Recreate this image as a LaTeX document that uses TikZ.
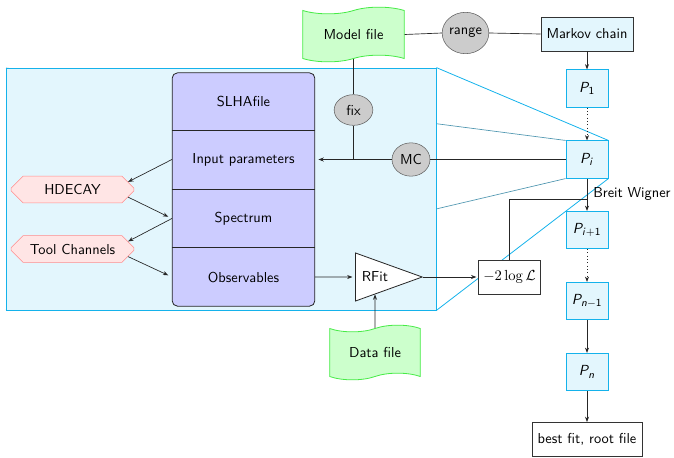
\documentclass[tikz,border=0pt]{standalone}
\usetikzlibrary{shapes.geometric,shapes.symbols,shapes.misc,arrows.meta,backgrounds,fit}
\renewcommand\familydefault{\sfdefault}
\DeclareMathAlphabet{\mathsfit}{OT1}{cmss}{m}{sl}
\newcommand\Pv[1]{$\mathsfit{P}_{#1}$}
\definecolor{framecyan}{RGB}{20,178,235}
\definecolor{filegreen}{RGB}{70,235,70}
\begin{document}
\begin{tikzpicture}[x=0.75pt,y=-0.75pt,
  every node/.style={font=\fontsize{10.8}{13}\selectfont},
  line/.style={draw=black!85,line width=0.5pt},
  arr/.style={line,-{Stealth[length=4pt,width=3pt]}},
  filebox/.style={tape,draw=filegreen,fill=green!20,line width=0.6pt,inner sep=0pt},
  knob/.style={ellipse,draw=gray!75!black,fill=gray!40,inner sep=0pt,line width=0.4pt},
  pbox/.style={rectangle,draw=framecyan,fill=framecyan!12,line width=0.6pt,minimum width=31.5pt,minimum height=28pt,inner sep=0pt},
  plainbox/.style={rectangle,draw=black!80,line width=0.7pt,inner sep=0pt},
  toolbox/.style={chamfered rectangle,chamfered rectangle xsep=5pt,chamfered rectangle ysep=5pt,draw=red!45,fill=red!10,minimum width=92pt,minimum height=20pt,inner sep=0pt},
  rowcell/.style={minimum width=107pt,minimum height=43.5pt,inner sep=0pt},
  zoomgray/.style={draw=framecyan!45!gray,line width=0.5pt},
  zoomcyan/.style={draw=framecyan,line width=0.6pt}]
\useasboundingbox (0,0) rectangle (674,457);

% files, knobs and the chain head
\node[filebox,minimum width=76pt,minimum height=41pt] (model) at (353.5,34.5) {Model file};
\node[knob,minimum width=35pt,minimum height=31pt] (range) at (465.5,33) {range};
\node[plainbox,fill=framecyan!12,minimum width=69pt,minimum height=25.5pt] (markov) at (587,34) {Markov chain};
\node[knob,minimum width=29pt,minimum height=23pt] (fix) at (353.5,110) {fix};
\node[knob,minimum width=28.5pt,minimum height=25pt] (mc) at (411,159.5) {MC};

% Markov chain points
\node[pbox] (p1)  at (587,88.5)  {\Pv{\mathsf{1}}};
\node[pbox] (pi)  at (587,159.5) {\Pv{\mathsfit{i}}};
\node[pbox] (pi1) at (587,230)   {\Pv{\mathsfit{i}+\mathsf{1}}};
\node[pbox] (pn1) at (587,301)   {\Pv{\mathsfit{n}-\mathsf{1}}};
\node[pbox] (pn)  at (587,372)   {\Pv{\mathsfit{n}}};
\node[plainbox,fill=white,minimum width=82.5pt,minimum height=25.5pt] (best) at (587,439.5) {best fit, root file};
\node[anchor=west,inner sep=0pt] (bw) at (593,194) {Breit Wigner};

% SLHA stack
\node[draw=black!85,fill=blue!20,rounded corners=4pt,line width=0.6pt,minimum width=107pt,minimum height=175pt,inner sep=0pt] (stack) at (243.5,189.5) {};
\node[rowcell] (slha) at (243.5,101.5) {SLHAfile};
\node[rowcell] (inp)  at (243.5,159.5) {Input parameters};
\node[rowcell] (spec) at (243.5,218.5) {Spectrum};
\node[rowcell] (obs)  at (243.5,277)   {Observables};
\foreach \r in {inp,spec,obs}
  \draw[line,line width=0.6pt] (\r.north west) -- (\r.north east);

% external tools
\node[toolbox] (hdecay) at (72.5,189.5) {HDECAY};
\node[toolbox] (tool)   at (72.5,249)   {Tool Channels};

% fit chain
\node[isosceles triangle,isosceles triangle stretches,shape border rotate=0,draw=black!85,fill=white,line width=0.6pt,minimum width=36pt,minimum height=50pt,inner sep=1pt] (rfit) at (375,277) {RFit};
\node[filebox,minimum width=68pt,minimum height=41pt] (data) at (375,352.5) {Data file};
\node[plainbox,fill=white,minimum width=47pt,minimum height=25.5pt] (loglik) at (509.5,277) {$-2\log\mathcal{L}$};

% zoom frame behind everything
\coordinate (fnw) at (6,68);
\coordinate (fse) at (436,310);
\begin{scope}[on background layer]
  \draw[zoomgray] (fnw) -- (pi.north west);
  \draw[zoomgray] (fnw |- fse) -- (pi.south west);
  \node[fit=(fnw)(fse),inner sep=0pt,draw=framecyan,fill=framecyan!12,line width=0.6pt] (frame) {};
  \draw[zoomcyan] (frame.north east) -- (pi.north east);
  \draw[zoomcyan] (frame.south east) -- (pi.south east);
\end{scope}

% connectors
\draw[line] (model.east) -- (range.west);
\draw[line] (range.east) -- (markov.west);
\draw[arr] (markov.south) -- (p1.north);
\draw[arr,dotted] (p1.south) -- (pi.north);
\draw[arr] (pi.south) -- (pi1.north);
\draw[arr,dotted] (pi1.south) -- (pn1.north);
\draw[arr] (pn1.south) -- (pn.north);
\draw[arr] (pn.south) -- (best.north);

\coordinate (junc) at (fix |- inp);
\draw[line] (model.south) -- (fix.north);
\draw[line] (fix.south) -- (junc);
\draw[line] (mc.west) -- (junc);
\draw[arr,shorten >=2.5pt] (junc) -- (inp.east);
\draw[line] (mc.east) -- (pi.west);

\draw[arr] (inp.west) -- (hdecay.north east);
\draw[arr,shorten >=3pt] (hdecay.south east) -- (spec.west);
\draw[arr] (spec.west) -- (tool.north east);
\draw[arr,shorten >=3pt] (tool.south east) -- (obs.west);

\draw[arr,shorten >=2pt] (obs.east) -- (rfit.west);
\draw[arr] (data.north) -- (rfit);
\draw[arr,shorten >=1pt] (rfit.apex) -- (loglik.west);
\coordinate (fb) at (587,199);
\draw[line] (loglik.north) |- (fb);
\end{tikzpicture}
\end{document}
